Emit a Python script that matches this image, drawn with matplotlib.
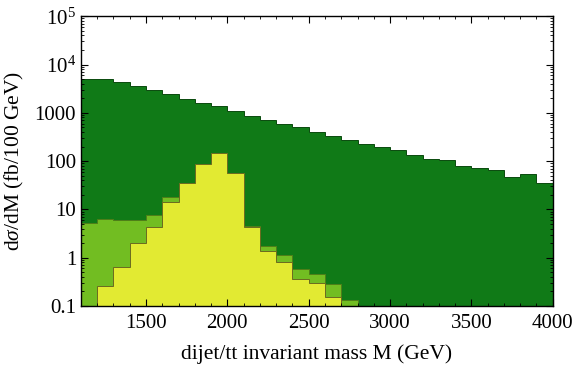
import matplotlib
matplotlib.use("Agg")
import matplotlib.pyplot as plt
import numpy as np

# bin edges, 100 GeV bins
dijet_edges = np.arange(1100, 4001, 100)
dijet_vals = [4900, 4900, 4250, 3560, 2950, 2400, 1950, 1590, 1370, 1070,
              840, 705, 574, 505, 393, 324, 268, 225, 198, 171,
              137, 108, 103, 79, 73, 64, 47, 55, 35]

tt_edges = np.arange(1100, 2801, 100)
tt_vals = [5.3, 6.3, 6.0, 6.0, 7.6, 17.7, 36, 87, 150, 58,
           4.5, 1.78, 1.13, 0.58, 0.45, 0.28, 0.133]

sig_edges = np.arange(1200, 2701, 100)
sig_vals = [0.26, 0.63, 2.04, 4.37, 14.4, 35, 85.5, 148, 56.5,
            4.25, 1.39, 0.82, 0.37, 0.30, 0.156]

ytick_vals = [0.1, 1, 10, 100, 1000, 1e4, 1e5]
ytick_labels = ["0.1", "1", "10", "100", "1000", r"$10^4$", r"$10^5$"]

plt.rcParams["font.family"] = ["Liberation Serif", "DejaVu Serif"]
plt.rcParams["mathtext.fontset"] = "custom"
plt.rcParams["mathtext.rm"] = "Liberation Serif"
plt.rcParams["mathtext.it"] = "Liberation Serif:italic"

fig = plt.figure(figsize=(5.74, 3.65), dpi=100)
ax = fig.add_axes([0.141, 0.1616, 0.822, 0.794])

ax.stairs(dijet_vals, dijet_edges, baseline=0.1, fill=True,
          facecolor="#107a17", edgecolor="#0a4a0e", linewidth=0.7)
ax.stairs(tt_vals, tt_edges, baseline=0.1, fill=True,
          facecolor="#72bd22", edgecolor="#4f7f18", linewidth=0.7)
ax.stairs(sig_vals, sig_edges, baseline=0.1, fill=True,
          facecolor="#e2ea32", edgecolor="#6b6a20", linewidth=0.7)

ax.set_yscale("log")
ax.set_xlim(1100, 4000)
ax.set_ylim(0.1, 1e5)
ax.set_yticks(ytick_vals)
ax.set_yticklabels(ytick_labels)
ax.set_xticks([1500, 2000, 2500, 3000, 3500, 4000])
ax.set_xticks(np.arange(1100, 4001, 100), minor=True)
ax.yaxis.set_minor_locator(matplotlib.ticker.LogLocator(base=10, subs=np.arange(2, 10)))
ax.yaxis.set_minor_formatter(matplotlib.ticker.NullFormatter())

ax.tick_params(which="both", direction="in", top=True, right=True, labelsize=15)
ax.tick_params(which="major", length=5, width=0.8)
ax.tick_params(which="minor", length=2.5, width=0.6)
ax.tick_params(axis="x", pad=6)
for s in ax.spines.values():
    s.set_linewidth(1.0)

ax.set_xlabel("dijet/tt invariant mass M (GeV)", fontsize=15.5, labelpad=8)
ax.set_ylabel(r"d$\sigma$/dM (fb/100 GeV)", fontsize=15.5, labelpad=6)

fig.savefig("out.png", dpi=100)
